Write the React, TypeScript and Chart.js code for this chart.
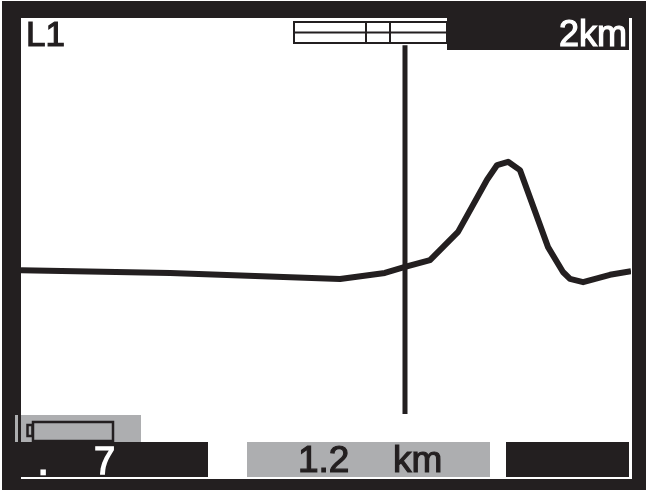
import React, { useEffect, useRef } from "react";
import { Chart, registerables } from "chart.js";

Chart.register(...registerables);

const distanceKm = [0, 0.489, 1.046, 1.193, 1.259, 1.341, 1.433, 1.528, 1.561, 1.597, 1.636, 1.728, 1.777, 1.8, 1.843, 1.931, 2];
const traceLevel = [45.3, 44.7, 43.4, 44.7, 46, 47.5, 53.6, 64.9, 68.1, 68.8, 67, 50.3, 44.9, 43.4, 42.7, 44.3, 45.1];
const cursorKm = [1.259, 1.259];
const cursorLevel = [94.1, 14.1];
const layerLabel = "L1";
const rangeLabel = "2km";
const markerDot = ".";
const markerValue = "7";
const cursorValue = "1.2";
const cursorUnit = "km";

const DARK = "#231f20";
const GREY = "#adaeb0";
const FONT = '"Liberation Sans", Arial, sans-serif';

const panelPlugin = {
  id: "panel",
  afterDraw(chart: any) {
    const c = chart.ctx as CanvasRenderingContext2D;
    const rect = (x: number, y: number, w: number, h: number, col: string) => {
      c.fillStyle = col;
      c.fillRect(x, y, w, h);
    };
    const text = (s: string, x: number, y: number, size: number, col: string, heavy = 1, align: CanvasTextAlign = "left") => {
      c.font = `normal ${size}px ${FONT}`;
      c.fillStyle = col;
      c.strokeStyle = col;
      c.lineWidth = heavy;
      c.lineJoin = "miter";
      c.textAlign = align;
      c.textBaseline = "alphabetic";
      c.fillText(s, x, y);
      c.strokeText(s, x, y);
    };
    c.save();
    // outer frame
    rect(2, 1, 644, 17, DARK);
    rect(2, 1, 19, 489, DARK);
    rect(632, 1, 14, 489, DARK);
    rect(2, 479, 644, 11, DARK);
    // top-right range box
    rect(447, 18, 182, 32, DARK);
    // scale bar
    c.strokeStyle = DARK;
    c.lineWidth = 2;
    c.strokeRect(294, 22, 153, 21);
    c.beginPath();
    c.moveTo(294, 32.5);
    c.lineTo(447, 32.5);
    c.moveTo(366, 22);
    c.lineTo(366, 43);
    c.moveTo(390, 22);
    c.lineTo(390, 43);
    c.stroke();
    // bottom-left status
    rect(15, 415, 3, 27, GREY);
    rect(21, 415, 120, 27, GREY);
    c.lineWidth = 2.5;
    c.strokeRect(33, 422, 80, 19);
    c.strokeRect(27.5, 425, 5, 11);
    rect(21, 442, 187, 35, DARK);
    rect(247, 442, 243, 35, GREY);
    rect(506, 442, 123, 35, DARK);
    // text
    text(layerLabel, 26, 46, 35, DARK, 1.2);
    text(rangeLabel, 627, 46, 36, "#ffffff", 1.2, "right");
    text(markerDot, 39, 474, 30, "#ffffff", 2.5);
    text(markerValue, 94, 474, 38, "#ffffff", 1.4);
    text(cursorValue, 298, 472, 37, DARK, 1.2);
    text(cursorUnit, 393, 472, 37, DARK, 1.2);
    c.restore();
  },
};

export default function App() {
  const ref = useRef<HTMLCanvasElement>(null);
  useEffect(() => {
    const chart = new Chart(ref.current!, {
      type: "scatter",
      data: {
        datasets: [
          {
            data: cursorKm.map((x, i) => ({ x, y: cursorLevel[i] })),
            showLine: true,
            borderColor: DARK,
            borderWidth: 5,
            pointRadius: 0,
          },
          {
            data: distanceKm.map((x, i) => ({ x, y: traceLevel[i] })),
            showLine: true,
            borderColor: DARK,
            borderWidth: 6,
            pointRadius: 0,
            tension: 0,
            borderJoinStyle: "round",
          },
        ],
      },
      options: {
        responsive: false,
        animation: false,
        layout: { padding: { left: 21, right: 16, top: 18, bottom: 13 } },
        plugins: { legend: { display: false }, tooltip: { enabled: false } },
        scales: {
          x: { type: "linear", min: 0, max: 2, display: false },
          y: { type: "linear", min: 0, max: 100, display: false },
        },
      },
      plugins: [panelPlugin],
    } as any);
    return () => chart.destroy();
  }, []);
  return (
    <canvas
      ref={ref}
      width={647}
      height={492}
      style={{ position: "absolute", left: 0, top: 0, background: "#fff" }}
    />
  );
}
